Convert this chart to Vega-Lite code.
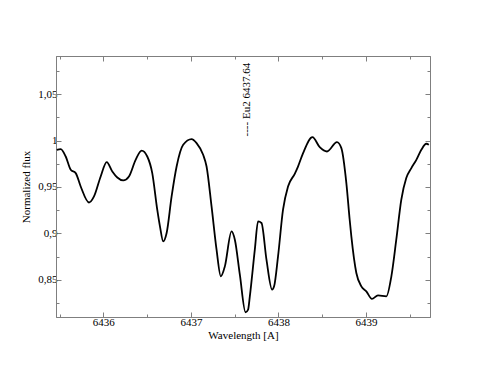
{
  "$schema": "https://vega.github.io/schema/vega-lite/v6.json",
  "autosize": "none",
  "width": 374,
  "height": 261,
  "padding": {"left": 56, "top": 56, "right": 54, "bottom": 57},
  "background": "white",
  "config": {
    "view": {"stroke": "#7f7f7f", "strokeWidth": 1},
    "axis": {
      "labelFont": "Liberation Serif",
      "titleFont": "Liberation Serif",
      "labelFontSize": 11,
      "titleFontSize": 11,
      "labelColor": "#000000",
      "titleColor": "#000000",
      "titleFontWeight": "normal",
      "domainColor": "#7f7f7f",
      "tickColor": "#7f7f7f",
      "tickWidth": 1,
      "grid": false
    },
    "text": {"font": "Liberation Serif"}
  },
  "datasets": {
    "spec": [
      {"w": 6435.469, "f": 0.990},
      {"w": 6435.514, "f": 0.9908},
      {"w": 6435.571, "f": 0.9828},
      {"w": 6435.628, "f": 0.9685},
      {"w": 6435.685, "f": 0.9649},
      {"w": 6435.742, "f": 0.9505},
      {"w": 6435.837, "f": 0.9333},
      {"w": 6435.894, "f": 0.9398},
      {"w": 6435.970, "f": 0.9613},
      {"w": 6436.039, "f": 0.9768},
      {"w": 6436.103, "f": 0.9667},
      {"w": 6436.160, "f": 0.9602},
      {"w": 6436.228, "f": 0.9570},
      {"w": 6436.293, "f": 0.9613},
      {"w": 6436.369, "f": 0.9792},
      {"w": 6436.438, "f": 0.9892},
      {"w": 6436.502, "f": 0.9828},
      {"w": 6436.559, "f": 0.9649},
      {"w": 6436.616, "f": 0.9255},
      {"w": 6436.647, "f": 0.9075},
      {"w": 6436.684, "f": 0.8914},
      {"w": 6436.723, "f": 0.9004},
      {"w": 6436.780, "f": 0.9398},
      {"w": 6436.837, "f": 0.9720},
      {"w": 6436.912, "f": 0.9954},
      {"w": 6437.008, "f": 1.0015},
      {"w": 6437.065, "f": 0.9972},
      {"w": 6437.140, "f": 0.9846},
      {"w": 6437.179, "f": 0.9720},
      {"w": 6437.236, "f": 0.9290},
      {"w": 6437.293, "f": 0.8825},
      {"w": 6437.342, "f": 0.8538},
      {"w": 6437.388, "f": 0.8645},
      {"w": 6437.464, "f": 0.9022},
      {"w": 6437.502, "f": 0.8932},
      {"w": 6437.559, "f": 0.8556},
      {"w": 6437.624, "f": 0.8151},
      {"w": 6437.653, "f": 0.8180},
      {"w": 6437.673, "f": 0.8323},
      {"w": 6437.730, "f": 0.8825},
      {"w": 6437.767, "f": 0.9129},
      {"w": 6437.806, "f": 0.9112},
      {"w": 6437.863, "f": 0.8717},
      {"w": 6437.927, "f": 0.8395},
      {"w": 6437.950, "f": 0.8430},
      {"w": 6437.995, "f": 0.8753},
      {"w": 6438.052, "f": 0.9255},
      {"w": 6438.109, "f": 0.9505},
      {"w": 6438.186, "f": 0.9642},
      {"w": 6438.223, "f": 0.9720},
      {"w": 6438.281, "f": 0.9865},
      {"w": 6438.388, "f": 1.0037},
      {"w": 6438.471, "f": 0.9929},
      {"w": 6438.554, "f": 0.9882},
      {"w": 6438.668, "f": 0.9983},
      {"w": 6438.718, "f": 0.9918},
      {"w": 6438.775, "f": 0.9542},
      {"w": 6438.813, "f": 0.9147},
      {"w": 6438.832, "f": 0.8968},
      {"w": 6438.889, "f": 0.8574},
      {"w": 6438.946, "f": 0.8430},
      {"w": 6439.003, "f": 0.8376},
      {"w": 6439.067, "f": 0.8295},
      {"w": 6439.136, "f": 0.8333},
      {"w": 6439.232, "f": 0.8323},
      {"w": 6439.289, "f": 0.8538},
      {"w": 6439.345, "f": 0.8932},
      {"w": 6439.402, "f": 0.9362},
      {"w": 6439.459, "f": 0.9596},
      {"w": 6439.517, "f": 0.9703},
      {"w": 6439.574, "f": 0.9792},
      {"w": 6439.631, "f": 0.9900},
      {"w": 6439.688, "f": 0.9965},
      {"w": 6439.717, "f": 0.9954}
    ],
    "label": [
      {"w": 6437.64, "f": 1.044, "t": "---- Eu2 6437.64"}
    ]
  },
  "layer": [
    {
      "data": {"name": "spec"},
      "mark": {"type": "line", "color": "#000000", "strokeWidth": 1.8, "interpolate": "monotone", "clip": true},
      "encoding": {
        "x": {
          "field": "w", "type": "quantitative",
          "scale": {"domain": [6435.46, 6439.73], "zero": false, "nice": false},
          "axis": {
            "orient": "bottom",
            "title": "Wavelength [A]",
            "labelFont": "Liberation Serif",
            "labelColor": "#000000",
            "labelFontSize": 11,
            "values": [6435.5, 6436, 6436.5, 6437, 6437.5, 6438, 6438.5, 6439, 6439.5],
            "labelExpr": "datum.value % 1 === 0 ? format(datum.value, 'd') : ''",
            "tickSize": {"condition": {"test": "datum.value % 1 === 0", "value": -5}, "value": -3},
            "labelPadding": 4,
            "titlePadding": 2
          }
        },
        "y": {
          "field": "f", "type": "quantitative",
          "scale": {"domain": [0.81, 1.091], "zero": false, "nice": false},
          "axis": {
            "orient": "left",
            "title": "Normalized flux",
            "labelFont": "Liberation Serif",
            "labelColor": "#000000",
            "labelFontSize": 11,
            "values": [0.825, 0.85, 0.875, 0.9, 0.925, 0.95, 0.975, 1, 1.025, 1.05, 1.075],
            "labelExpr": "abs(datum.value*20 - round(datum.value*20)) < 0.001 ? replace(format(datum.value, '.2~f'), '.', ',') : ''",
            "tickSize": {"condition": {"test": "abs(datum.value*20 - round(datum.value*20)) < 0.001", "value": -5}, "value": -3},
            "labelPadding": 4,
            "titlePadding": 6
          }
        }
      }
    },
    {
      "data": {"name": "label"},
      "mark": {"type": "text", "angle": 270, "align": "center", "baseline": "middle", "fontSize": 11, "color": "#000000", "font": "Liberation Serif"},
      "encoding": {
        "x": {
          "field": "w", "type": "quantitative",
          "axis": {
            "orient": "top", "title": null, "labels": false,
            "values": [6435.5, 6436, 6436.5, 6437, 6437.5, 6438, 6438.5, 6439, 6439.5],
            "tickSize": {"condition": {"test": "datum.value % 1 === 0", "value": -5}, "value": -3}
          }
        },
        "y": {
          "field": "f", "type": "quantitative",
          "axis": {
            "orient": "right", "title": null, "labels": false,
            "values": [0.825, 0.85, 0.875, 0.9, 0.925, 0.95, 0.975, 1, 1.025, 1.05, 1.075],
            "tickSize": {"condition": {"test": "abs(datum.value*20 - round(datum.value*20)) < 0.001", "value": -5}, "value": -3}
          }
        },
        "text": {"field": "t"}
      }
    }
  ],
  "resolve": {"axis": {"x": "independent", "y": "independent"}}
}
